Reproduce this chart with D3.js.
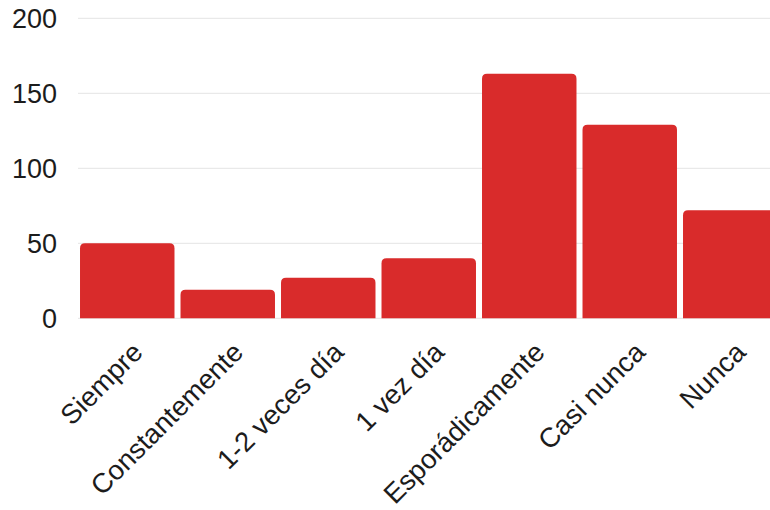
<!DOCTYPE html>
<html>
<head>
<meta charset="utf-8">
<script src="https://cdn.jsdelivr.net/npm/d3@7"></script>
<style>
  html, body { margin: 0; padding: 0; background: #fff; }
  svg { display: block; }
  text { font-family: "Liberation Sans", Arial, sans-serif; fill: #1c1c1c; }
</style>
</head>
<body>
<svg id="chart" width="770" height="510"></svg>
<script>
const categories = ["Siempre", "Constantemente", "1-2 veces día", "1 vez día", "Esporádicamente", "Casi nunca", "Nunca"];
const values = [50, 19, 27, 40, 163, 129, 72];
const yTicks = [0, 50, 100, 150, 200];

const svg = d3.select("#chart");
const x = d3.scaleBand().domain(categories).range([77, 780.5]).paddingInner(0.06).paddingOuter(0.03);
const y = d3.scaleLinear().domain([0, 200]).range([318.3, 18.3]);

// gridlines
svg.append("g").selectAll("line").data(yTicks).join("line")
  .attr("x1", 78).attr("x2", 770)
  .attr("y1", d => y(d)).attr("y2", d => y(d))
  .attr("stroke", "#e9e9e9").attr("stroke-width", 1.2);

// y labels
svg.append("g").selectAll("text").data(yTicks).join("text")
  .attr("x", 57).attr("y", d => y(d)).attr("dy", "0.36em")
  .attr("text-anchor", "end").style("font-size", "27px")
  .text(d => d);

// bars with rounded top corners
const r = 5;
svg.append("g").selectAll("path").data(values).join("path")
  .attr("fill", "#d92b2b")
  .attr("d", (d, i) => {
    const x0 = x(categories[i]), w = x.bandwidth();
    const yt = y(d), yb = y(0);
    return `M${x0},${yb} L${x0},${yt + r} Q${x0},${yt} ${x0 + r},${yt} L${x0 + w - r},${yt} Q${x0 + w},${yt} ${x0 + w},${yt + r} L${x0 + w},${yb} Z`;
  });

// x labels
svg.append("g").selectAll("text").data(categories).join("text")
  .attr("transform", d => `translate(${x(d) + x.bandwidth() / 2 + 10},347) rotate(-45)`)
  .attr("dy", "0.36em")
  .attr("text-anchor", "end").style("font-size", "27.5px")
  .text(d => d);
</script>
</body>
</html>
